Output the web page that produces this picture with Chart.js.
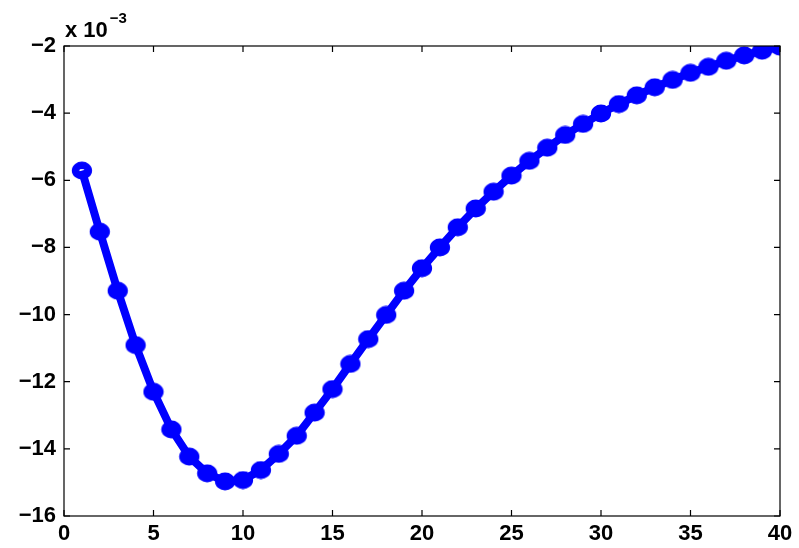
<!DOCTYPE html>
<html>
<head>
<meta charset="utf-8">
<script src="https://cdn.jsdelivr.net/npm/chart.js@4"></script>
<style>
  body { margin: 0; background: #fff; }
  #wrap { width: 799px; height: 548px; }
</style>
</head>
<body>
<div id="wrap"><canvas id="chart" width="799" height="548"></canvas></div>
<script>
// values, in units of 10^-3
const xValues = [1, 2, 3, 4, 5, 6, 7, 8, 9, 10, 11, 12, 13, 14, 15, 16, 17, 18, 19, 20,
  21, 22, 23, 24, 25, 26, 27, 28, 29, 30, 31, 32, 33, 34, 35, 36, 37, 38, 39, 40];
const yValues = [-5.71, -7.53, -9.29, -10.91, -12.30, -13.42, -14.23, -14.73, -14.97, -14.93,
  -14.63, -14.15, -13.61, -12.92, -12.22, -11.47, -10.73, -10.01, -9.29, -8.62,
  -8.00, -7.40, -6.84, -6.34, -5.86, -5.42, -5.03, -4.65, -4.32, -4.01,
  -3.73, -3.47, -3.23, -3.01, -2.80, -2.62, -2.44, -2.28, -2.14, -2.02];
const xTicks = [0, 5, 10, 15, 20, 25, 30, 35, 40];
const yTicks = [-16, -14, -12, -10, -8, -6, -4, -2];
const exponent = '\u22123';

const tickFont = { family: 'Liberation Sans', size: 22, weight: 'bold' };

// MATLAB-ish marker: very thick open ellipse, nearly filled
function makeMarker() {
  const c = document.createElement('canvas');
  c.width = 22; c.height = 19;
  const g = c.getContext('2d');
  g.strokeStyle = '#0000ff';
  g.lineWidth = 7.5;
  g.beginPath();
  g.ellipse(11, 9.5, 6.4, 5.2, 0, 0, Math.PI * 2);
  g.stroke();
  return c;
}

// box around the plot with inward ticks, plus the exponent label
const boxPlugin = {
  id: 'box',
  afterDraw(chart) {
    const { ctx, chartArea: a, scales } = chart;
    ctx.save();
    ctx.strokeStyle = '#000';
    ctx.lineWidth = 1.2;
    ctx.strokeRect(a.left, a.top, a.right - a.left, a.bottom - a.top);
    ctx.beginPath();
    xTicks.forEach(v => {
      const px = scales.x.getPixelForValue(v);
      ctx.moveTo(px, a.bottom); ctx.lineTo(px, a.bottom - 6);
      ctx.moveTo(px, a.top); ctx.lineTo(px, a.top + 6);
    });
    yTicks.forEach(v => {
      const py = scales.y.getPixelForValue(v);
      ctx.moveTo(a.left, py); ctx.lineTo(a.left + 6, py);
      ctx.moveTo(a.right, py); ctx.lineTo(a.right - 6, py);
    });
    ctx.stroke();

    ctx.fillStyle = '#000';
    ctx.textBaseline = 'alphabetic';
    ctx.textAlign = 'left';
    ctx.font = 'bold 22px "Liberation Sans"';
    ctx.fillText('x 10', a.left + 1, 37);
    const w = ctx.measureText('x 10').width;
    ctx.font = 'bold 15px "Liberation Sans"';
    ctx.fillText(exponent, a.left + w + 3, 23);
    ctx.restore();
  }
};

new Chart(document.getElementById('chart'), {
  type: 'line',
  data: {
    datasets: [{
      data: xValues.map((x, i) => ({ x: x, y: yValues[i] })),
      borderColor: '#0000ff',
      borderWidth: 8,
      pointStyle: makeMarker(),
      pointRadius: 10,
      pointHoverRadius: 10,
      tension: 0,
      fill: false
    }]
  },
  options: {
    responsive: false,
    animation: false,
    layout: { padding: { top: 46, right: 19, left: 0, bottom: 0 } },
    plugins: { legend: { display: false }, tooltip: { enabled: false } },
    scales: {
      x: {
        type: 'linear',
        min: 0, max: 40,
        afterBuildTicks: s => { s.ticks = xTicks.map(v => ({ value: v })); },
        afterFit: s => { s.height = 32; },
        grid: { display: false, drawTicks: false },
        border: { display: false },
        ticks: { color: '#000', font: tickFont, padding: 5, maxRotation: 0 }
      },
      y: {
        type: 'linear',
        min: -16, max: -2,
        afterBuildTicks: s => { s.ticks = yTicks.map(v => ({ value: v })); },
        afterFit: s => { s.width = 64; },
        grid: { display: false, drawTicks: false },
        border: { display: false },
        ticks: {
          color: '#000', font: tickFont, padding: 8,
          callback: v => String(v).replace('-', '\u2212')
        }
      }
    }
  },
  plugins: [boxPlugin]
});
</script>
</body>
</html>
